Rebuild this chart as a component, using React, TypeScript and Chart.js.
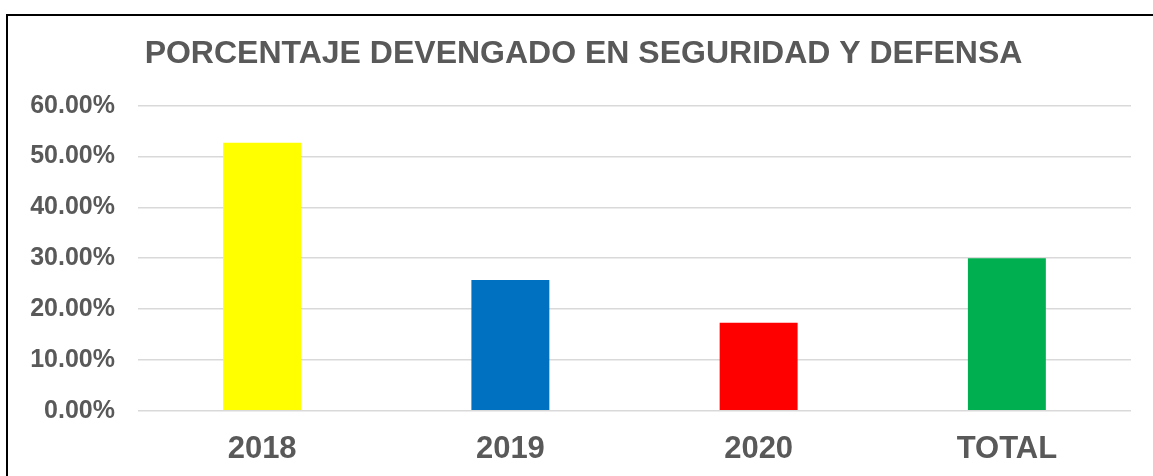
import React, { useEffect, useRef } from "react";
import { Chart, registerables } from "chart.js";

Chart.register(...registerables);

const TITLE = "PORCENTAJE DEVENGADO EN SEGURIDAD Y DEFENSA";
const categories = ["2018", "2019", "2020", "TOTAL"];
const values = [0.527, 0.257, 0.173, 0.3];
const barColors = ["#FFFF00", "#0070C0", "#FF0000", "#00B050"];
const yMin = 0;
const yMax = 0.6;
const yStep = 0.1;

const FONT = "'Liberation Sans', Arial, sans-serif";
const TEXT = "#595959";

const framePlugin = {
  id: "frame",
  afterDraw(chart: any) {
    const ctx = chart.ctx;
    ctx.save();
    ctx.strokeStyle = "#000000";
    ctx.lineWidth = 2;
    ctx.strokeRect(7, 15, chart.width + 10, chart.height + 10);
    ctx.fillStyle = TEXT;
    ctx.font = "bold 32px " + FONT;
    ctx.textAlign = "center";
    ctx.textBaseline = "middle";
    ctx.fillText(TITLE, 583.5, 54.5);
    ctx.restore();
  },
};

export default function App() {
  const ref = useRef<HTMLCanvasElement | null>(null);

  useEffect(() => {
    document.body.style.margin = "0";
    if (!ref.current) return;
    const chart = new Chart(ref.current, {
      type: "bar",
      data: {
        labels: categories,
        datasets: [
          {
            data: values,
            backgroundColor: barColors,
            borderWidth: 0,
            barPercentage: 0.314,
            categoryPercentage: 1,
          },
        ],
      },
      options: {
        animation: false,
        responsive: true,
        maintainAspectRatio: false,
        layout: { padding: { left: 0, right: 22, top: 105.7, bottom: 0 } },
        plugins: {
          legend: { display: false },
          tooltip: { enabled: false },
          title: { display: false },
        },
        scales: {
          x: {
            grid: { display: false, drawTicks: false },
            border: { display: false },
            ticks: {
              color: TEXT,
              font: { family: FONT, size: 31, weight: "bold" },
              padding: 20,
            },
            afterFit(scale: any) {
              scale.height = 65.3;
            },
          },
          y: {
            min: yMin,
            max: yMax,
            grid: { color: "#d9d9d9", lineWidth: 1.5, drawTicks: false },
            border: { display: false },
            ticks: {
              stepSize: yStep,
              color: TEXT,
              font: { family: FONT, size: 25, weight: "bold" },
              padding: 23,
              callback: (v: any) => (Number(v) * 100).toFixed(2) + "%",
            },
            afterFit(scale: any) {
              scale.width = 138;
            },
          },
        },
      },
      plugins: [framePlugin],
    });
    return () => chart.destroy();
  }, []);

  return (
    <div style={{ position: "relative", width: "1153px", height: "476px" }}>
      <canvas ref={ref} />
    </div>
  );
}
